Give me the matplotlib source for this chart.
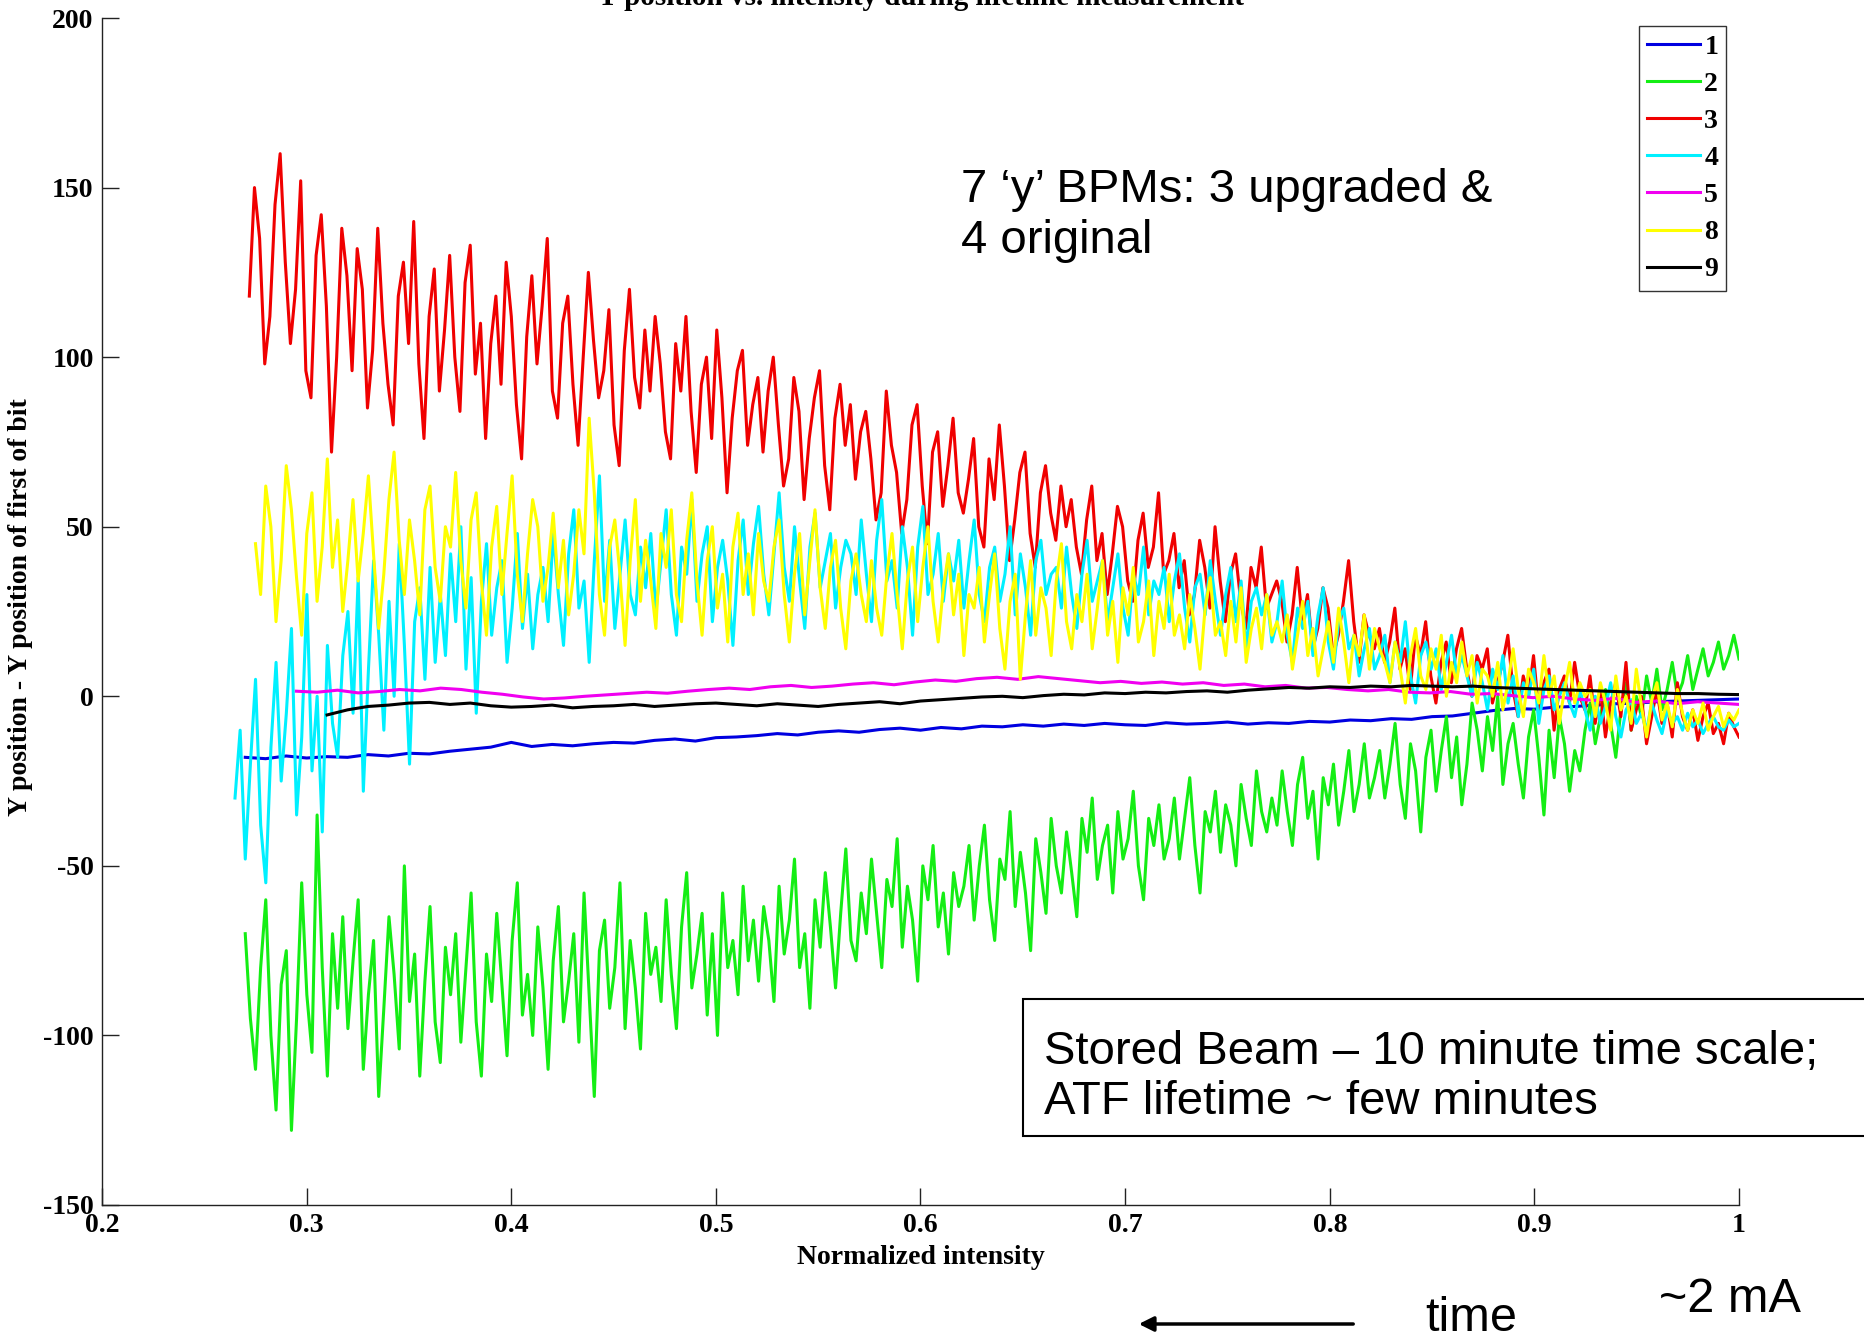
import numpy as np
import matplotlib
matplotlib.use("Agg")
import matplotlib.pyplot as plt
from matplotlib.patches import Rectangle, FancyArrowPatch

plt.rcParams['font.family'] = ['Liberation Serif', 'DejaVu Serif']
plt.rcParams['axes.unicode_minus'] = False

# ---- BPM traces: y offset vs. normalized intensity ----
bpm_labels = ['1', '2', '3', '4', '5', '8', '9']
bpm_colors = ['#0000E0', '#14EE14', '#F00000', '#00F0FF', '#F000F0', '#FFFF00', '#000000']

# BPM 1 (x from 0.27 to 1.0)
bpm1_range = (0.27, 1.0)
bpm1 = [-18.0, -18.4, -17.6, -18.2, -17.8, -18.0, -17.2, -17.6, -16.8, -17.0,
        -16.2, -15.6, -15.0, -13.6, -14.8, -14.2, -14.6, -14.0, -13.6, -13.8,
        -13.0, -12.6, -13.2, -12.2, -12.0, -11.6, -11.0, -11.4, -10.6, -10.2,
        -10.6, -9.8, -9.4, -10.0, -9.2, -9.6, -8.8, -9.0, -8.4, -8.8,
        -8.2, -8.6, -8.0, -8.4, -8.6, -7.8, -8.2, -8.0, -7.6, -8.2,
        -7.8, -8.0, -7.4, -7.6, -7.0, -7.2, -6.6, -6.8, -6.0, -5.8,
        -5.0, -4.2, -3.6, -3.8, -3.2, -3.0, -2.6, -2.2, -2.0, -1.6,
        -1.4, -1.2, -1.0, -0.8]

# BPM 2 (x from 0.27 to 1.0)
bpm2_range = (0.27, 1.0)
bpm2 = [-70, -95, -110, -80, -60, -100, -122, -85, -75, -128, -95, -55, -88, -105, -35, -80, -112, -70, -92, -65,
        -98, -78, -60, -110, -88, -72, -118, -92, -65, -82, -104, -50, -90, -76, -112, -84, -62, -96, -108, -74,
        -88, -70, -102, -80, -58, -96, -112, -76, -90, -64, -85, -106, -72, -55, -94, -82, -100, -68, -86, -110,
        -78, -62, -96, -84, -70, -102, -58, -88, -118, -75, -66, -92, -80, -55, -98, -72, -86, -104, -64, -82,
        -74, -90, -60, -82, -98, -68, -52, -86, -76, -64, -94, -70, -100, -58, -80, -72, -88, -56, -78, -66,
        -84, -62, -72, -90, -56, -76, -66, -48, -80, -70, -92, -60, -74, -52, -68, -86, -64, -45, -72, -78,
        -58, -70, -48, -64, -80, -54, -62, -42, -74, -56, -66, -84, -50, -60, -44, -68, -58, -76, -52, -62,
        -56, -44, -66, -50, -38, -60, -72, -48, -54, -34, -62, -46, -58, -75, -42, -52, -64, -36, -50, -58,
        -40, -52, -65, -36, -46, -30, -54, -44, -38, -58, -34, -48, -42, -28, -50, -60, -36, -44, -32, -48,
        -42, -30, -48, -36, -24, -44, -58, -34, -40, -28, -46, -32, -38, -50, -26, -36, -44, -22, -34, -40,
        -30, -38, -22, -34, -44, -26, -18, -36, -28, -48, -24, -32, -20, -38, -28, -16, -34, -26, -14, -30,
        -24, -16, -30, -20, -8, -26, -36, -14, -22, -40, -18, -10, -28, -16, -6, -24, -12, -32, -20, -2,
        -10, -22, -6, -16, 0, -26, -14, -8, -20, -30, -12, -4, -18, -35, -10, -24, -6, -14, -28, -16,
        -22, -10, -2, -14, -6, 2, -8, -18, -4, 4, -10, 0, -6, 6, -2, 8, -4, 2, 10, 0,
        4, 12, 2, 8, 14, 6, 10, 16, 8, 12, 18, 11]

# BPM 3 (x from 0.272 to 1.0)
bpm3_range = (0.272, 1.0)
bpm3 = [118, 150, 135, 98, 112, 145, 160, 128, 104, 120, 152, 96, 88, 130, 142, 115, 72, 100, 138, 124,
        96, 132, 120, 85, 102, 138, 110, 92, 80, 118, 128, 104, 140, 98, 76, 112, 126, 90, 108, 130,
        100, 84, 122, 133, 95, 110, 76, 104, 118, 92, 128, 112, 86, 70, 106, 124, 98, 115, 135, 90,
        82, 110, 118, 92, 74, 100, 125, 105, 88, 96, 114, 80, 68, 102, 120, 94, 85, 108, 90, 112,
        98, 78, 70, 104, 90, 112, 84, 66, 92, 100, 76, 108, 88, 60, 82, 96, 102, 74, 86, 94,
        72, 90, 100, 80, 62, 70, 94, 84, 58, 76, 88, 96, 68, 55, 82, 92, 74, 86, 64, 78,
        84, 70, 52, 60, 90, 74, 66, 48, 58, 80, 86, 62, 45, 72, 78, 56, 68, 82, 60, 54,
        64, 76, 50, 44, 70, 58, 80, 62, 40, 52, 66, 72, 48, 38, 60, 68, 54, 46, 62, 50,
        58, 44, 36, 52, 62, 40, 48, 30, 42, 56, 50, 34, 28, 46, 54, 38, 44, 60, 36, 40,
        48, 32, 40, 24, 30, 46, 38, 26, 50, 34, 22, 36, 42, 28, 20, 38, 32, 44, 26, 30,
        34, 28, 16, 24, 38, 22, 30, 14, 20, 32, 26, 12, 18, 28, 40, 22, 10, 24, 18, 14,
        20, 10, 16, 26, 8, 14, 2, 18, 12, 22, 6, -2, 10, 16, 4, 14, 20, 8, 0, 12,
        8, 14, -2, 4, 10, 18, 2, -6, 6, 0, 12, -4, 4, 8, -10, 2, 6, -2, 10, 0,
        -4, 6, -8, 2, -12, -2, 4, -6, 10, -10, -4, 0, -14, -6, 2, -8, -2, -12, 4, -6,
        -10, -4, -13, -6, -2, -11, -8, -14, -5, -9, -12]

# BPM 4 (x from 0.265 to 1.0)
bpm4_range = (0.265, 1.0)
bpm4 = [-30, -10, -48, -20, 5, -38, -55, -15, 10, -25, -5, 20, -35, -12, 30, -22, 0, -40, 15, -8,
        -18, 12, 25, -5, 35, -28, 8, 40, 18, -10, 28, 0, 45, 15, -20, 22, 32, 5, 38, 10,
        30, 12, 42, 22, 50, 8, 35, -5, 28, 45, 18, 32, 40, 10, 26, 48, 20, 36, 14, 30,
        38, 22, 48, 30, 15, 42, 55, 26, 34, 10, 40, 65, 28, 46, 20, 36, 52, 30, 24, 44,
        32, 48, 25, 40, 55, 30, 18, 44, 36, 58, 28, 42, 50, 22, 38, 46, 34, 15, 40, 52,
        30, 45, 56, 36, 24, 42, 60, 38, 28, 50, 34, 20, 44, 54, 32, 40, 48, 26, 38, 46,
        42, 30, 52, 36, 22, 46, 58, 34, 40, 26, 50, 38, 18, 44, 56, 30, 36, 48, 28, 42,
        34, 46, 26, 40, 52, 30, 22, 38, 44, 28, 36, 50, 24, 42, 32, 18, 40, 46, 30, 36,
        38, 26, 44, 30, 20, 36, 46, 28, 34, 40, 22, 32, 42, 26, 18, 36, 30, 44, 24, 34,
        30, 38, 22, 34, 42, 26, 16, 32, 36, 24, 40, 28, 18, 30, 38, 22, 34, 14, 28, 32,
        24, 30, 16, 22, 34, 18, 10, 26, 20, 28, 12, 24, 32, 16, 8, 22, 26, 14, 18, 6,
        14, 20, 8, 12, 18, 4, 16, 10, 22, 6, -2, 12, 16, 8, 14, 2, 10, 18, 6, 12,
        6, 0, 10, 4, -4, 8, 2, 12, -2, 6, -6, 4, 0, 8, -8, 2, 6, -4, 0, 4,
        -2, -6, 2, -4, -10, 0, -8, -3, 4, -6, -12, -4, -1, -8, -5, -10, -2, -7, -11, -4,
        -8, -6, -10, -5, -9, -7, -11, -8, -6, -9, -10, -7, -9, -8]

# BPM 5 (x from 0.295 to 1.0)
bpm5_range = (0.295, 1.0)
bpm5 = [1.5, 1.2, 1.8, 1.0, 1.4, 2.0, 1.6, 2.4, 2.0, 1.2, 0.6, -0.2, -0.8, -0.5,
        0.0, 0.4, 0.8, 1.2, 0.9, 1.5, 2.0, 2.4, 2.0, 2.8, 3.2, 2.6, 3.0, 3.6,
        4.0, 3.4, 4.2, 4.8, 4.4, 5.2, 5.6, 5.0, 5.8, 5.2, 4.6, 4.0, 4.4, 3.8,
        4.2, 3.6, 4.0, 3.2, 3.6, 2.8, 3.2, 2.4, 2.6, 2.0, 1.6, 2.0, 1.2, 1.0,
        1.4, 0.6, 0.8, 0.2, -0.4, 0.0, -0.8, -1.2, -0.6, -1.8, -1.4, -2.2, -1.6,
        -2.0, -2.4]

# BPM 8 (x from 0.275 to 1.0)
bpm8_range = (0.275, 1.0)
bpm8 = [45, 30, 62, 50, 22, 40, 68, 55, 35, 18, 48, 60, 28, 44, 70, 38, 52, 25, 40, 58,
        34, 48, 65, 42, 20, 36, 58, 72, 46, 30, 52, 40, 24, 55, 62, 38, 28, 50, 44, 66,
        40, 26, 52, 60, 34, 18, 44, 56, 30, 48, 65, 36, 22, 42, 58, 50, 28, 38, 54, 32,
        46, 24, 36, 55, 42, 82, 60, 30, 18, 44, 52, 36, 15, 40, 58, 28, 46, 34, 20, 48,
        38, 55, 30, 22, 46, 60, 34, 18, 40, 50, 26, 36, 16, 44, 54, 30, 42, 24, 48, 34,
        28, 44, 52, 30, 16, 36, 48, 24, 40, 55, 32, 20, 38, 46, 26, 14, 34, 42, 30, 22,
        40, 26, 18, 36, 48, 30, 14, 34, 44, 22, 38, 50, 28, 16, 32, 42, 24, 36, 12, 30,
        26, 38, 16, 30, 42, 20, 8, 28, 36, 5, 24, 40, 18, 32, 26, 12, 34, 45, 22, 14,
        30, 22, 36, 14, 26, 40, 18, 28, 10, 32, 24, 38, 16, 22, 34, 12, 28, 20, 36, 18,
        24, 14, 30, 20, 8, 26, 35, 18, 22, 12, 28, 16, 32, 10, 20, 26, 14, 30, 18, 22,
        16, 24, 8, 18, 28, 12, 20, 6, 14, 22, 10, 26, 16, 4, 18, 12, 24, 8, 20, 14,
        10, 4, 16, 8, -2, 12, 20, 6, 2, 14, 8, 18, 0, 10, 4, 16, 6, 12, -2, 8,
        6, 0, 10, -4, 4, 14, 2, -6, 8, 4, -2, 12, 0, 6, -8, 2, 10, -2, 4, 0,
        2, -6, 4, -2, -10, 6, -4, 0, -8, 8, -3, -12, -1, 4, -7, -2, -9, 2, -5, -10,
        -4, -8, -2, -10, -6, -3, -9, -5, -7, -4]

# BPM 9 (x from 0.31 to 1.0)
bpm9_range = (0.31, 1.0)
bpm9 = [-5.5, -4.0, -3.0, -2.6, -2.0, -1.8, -2.4, -2.0, -2.8, -3.2, -3.0, -2.6,
        -3.4, -3.0, -2.8, -2.4, -3.0, -2.6, -2.2, -2.0, -2.4, -2.8, -2.2, -2.6,
        -3.0, -2.4, -2.0, -1.6, -2.2, -1.4, -1.0, -0.6, -0.2, 0.0, -0.4, 0.2,
        0.6, 0.4, 1.0, 0.8, 1.2, 1.0, 1.4, 1.6, 1.2, 1.8, 2.2, 2.6, 2.4, 2.8,
        2.6, 3.0, 2.8, 3.2, 3.0, 2.8, 3.0, 2.6, 2.4, 2.2, 2.0, 1.8, 1.6, 1.4,
        1.2, 1.0, 0.8, 0.8, 0.6, 0.5]

series = [(bpm1_range, bpm1), (bpm2_range, bpm2), (bpm3_range, bpm3),
          (bpm4_range, bpm4), (bpm5_range, bpm5), (bpm8_range, bpm8),
          (bpm9_range, bpm9)]

x_ticks = [0.2, 0.3, 0.4, 0.5, 0.6, 0.7, 0.8, 0.9, 1.0]
x_tick_labels = ['0.2', '0.3', '0.4', '0.5', '0.6', '0.7', '0.8', '0.9', '1']
y_ticks = [-150, -100, -50, 0, 50, 100, 150, 200]

W, H = 1865, 1340
fig = plt.figure(figsize=(W / 100, H / 100), dpi=100)
fig.patch.set_facecolor('white')
ax = fig.add_axes([102 / W, 1 - 1205 / H, (1739 - 102) / W, (1205 - 18) / H])

handles = []
for (rng, vals), lab, col in zip(series, bpm_labels, bpm_colors):
    xs = np.linspace(rng[0], rng[1], len(vals))
    h, = ax.plot(xs, vals, color=col, lw=2.2, label=lab)
    handles.append(h)

ax.set_xlim(0.2, 1.0)
ax.set_ylim(-150, 200)
ax.set_xticks(x_ticks)
ax.set_xticklabels(x_tick_labels)
ax.set_yticks(y_ticks)
for s in ['top', 'right']:
    ax.spines[s].set_visible(False)
for s in ['left', 'bottom']:
    ax.spines[s].set_linewidth(1.0)
    ax.spines[s].set_color('#222222')
ax.tick_params(direction='in', length=12, width=1, color='#222222',
               labelsize=20, pad=6)
for lbl in ax.get_xticklabels() + ax.get_yticklabels():
    lbl.set_fontweight('bold')

ax.set_xlabel('Normalized intensity', fontsize=20, fontweight='bold', labelpad=5)

# title sits mostly above the page edge
fig.text(920 / W, 1 - 5 / H, 'Y position vs. intensity during lifetime measurement',
         ha='center', va='baseline', fontsize=21, fontweight='bold')
fig.text(33 / W, 1 - 607 / H, 'Y position - Y position of first of bit',
         rotation=90, ha='right', va='center', fontsize=20, fontweight='bold')

leg = ax.legend(handles=handles, loc='upper left',
                bbox_to_anchor=(1639 / W, 1 - 26 / H), bbox_transform=fig.transFigure,
                prop={'family': 'Liberation Serif', 'weight': 'bold', 'size': 20},
                handlelength=1.9, handletextpad=0.15, labelspacing=0.42,
                borderpad=0.3, borderaxespad=0, fancybox=False, framealpha=1,
                edgecolor='#333333')
leg.get_frame().set_linewidth(1.0)

sans = ['Liberation Sans', 'DejaVu Sans']
fig.text(961 / W, 1 - 253 / H, '7 \u2018y\u2019 BPMs: 3 upgraded &\n4 original',
         ha='left', va='baseline', fontsize=34, family=sans, linespacing=1.2)

fig.patches.append(Rectangle((1023 / W, 1 - 1136 / H), (1900 - 1023) / W, (1136 - 999) / H,
                             transform=fig.transFigure, facecolor='white',
                             edgecolor='black', lw=1.5, zorder=5))
fig.text(1044 / W, 1 - 1114 / H,
         'Stored Beam \u2013 10 minute time scale;\nATF lifetime ~ few minutes',
         ha='left', va='baseline', fontsize=34, family=sans, linespacing=1.17, zorder=6)

fig.text(1659 / W, 1 - 1312 / H, '~2 mA', ha='left', va='baseline', fontsize=35, family=sans)
fig.text(1425 / W, 1 - 1331 / H, 'time', ha='left', va='baseline', fontsize=35, family=sans)
fig.patches.append(FancyArrowPatch((1356 / W, 1 - 1324 / H), (1136 / W, 1 - 1324 / H),
                                   transform=fig.transFigure, arrowstyle='-|>',
                                   mutation_scale=22, lw=2.5, color='black'))

fig.savefig('out.png', dpi=100, facecolor='white')
